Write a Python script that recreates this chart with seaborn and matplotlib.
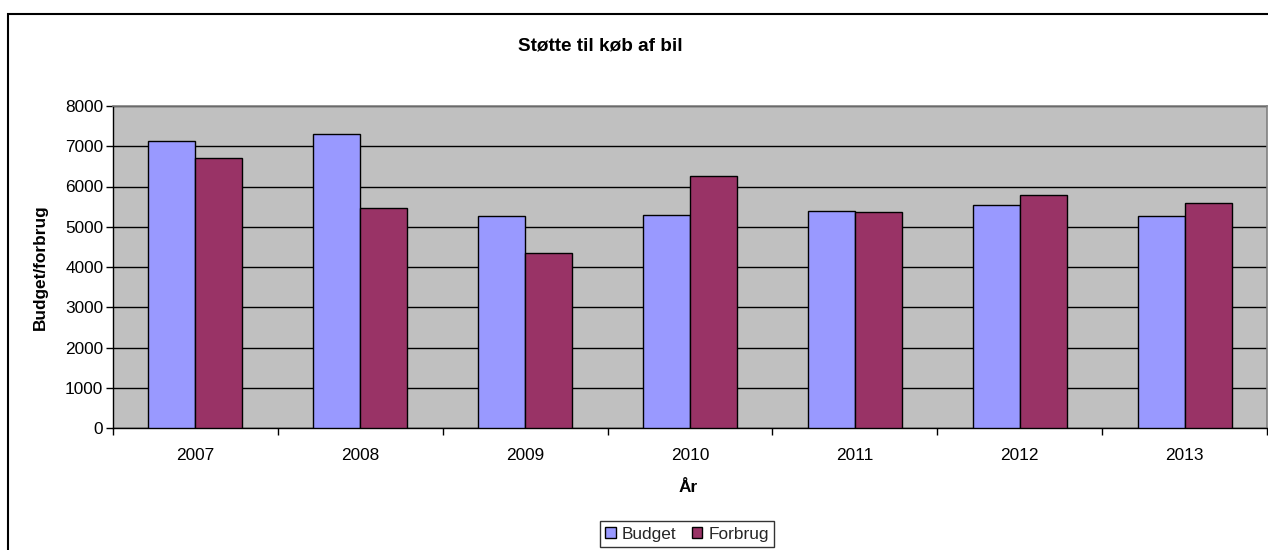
import matplotlib
matplotlib.use("Agg")
import matplotlib.pyplot as plt
from matplotlib.patches import Rectangle, Patch
from matplotlib.ticker import FixedLocator
import seaborn as sns
import pandas as pd

years = ["2007", "2008", "2009", "2010", "2011", "2012", "2013"]
budget = [7130, 7300, 5260, 5290, 5400, 5530, 5260]
forbrug = [6720, 5460, 4350, 6260, 5360, 5800, 5600]
series_names = ["Budget", "Forbrug"]
colors = ["#9999FF", "#993366"]

df = pd.DataFrame({
    "År": years * 2,
    "Værdi": budget + forbrug,
    "Serie": [series_names[0]] * len(years) + [series_names[1]] * len(years),
})

sns.set_theme(style="white")
plt.rcParams["font.family"] = ["Liberation Sans", "DejaVu Sans"]

FS = 12.4
W, H = 1268, 550
fig = plt.figure(figsize=(W / 100, H / 100), dpi=100)
fig.patch.set_facecolor("white")

left, right, top, bottom = 113, 1267, 106, 428
ax = fig.add_axes([left / W, 1 - bottom / H, (right - left) / W, (bottom - top) / H])
ax.set_facecolor("#C0C0C0")

sns.barplot(data=df, x="År", y="Værdi", hue="Serie", palette=colors,
            width=0.57, gap=0, saturation=1, edgecolor="black", linewidth=1.0,
            ax=ax, legend=False, zorder=3)

ax.set_ylim(0, 8000)
ax.set_xlim(-0.5, len(years) - 0.5)
ax.set_yticks(range(0, 8001, 1000))
ax.yaxis.grid(True, color="black", linewidth=1.0, zorder=0)
ax.set_axisbelow(True)
ax.tick_params(axis="y", which="major", direction="out", length=5, width=1,
               color="black", labelsize=FS, pad=2, left=True, labelcolor="black")
ax.xaxis.set_minor_locator(FixedLocator([i - 0.5 for i in range(len(years) + 1)]))
ax.tick_params(axis="x", which="minor", direction="out", length=5, width=1,
               color="black", bottom=True)
ax.tick_params(axis="x", which="major", length=0, labelsize=FS, pad=14.5,
               labelcolor="black")

for s in ["left", "bottom"]:
    ax.spines[s].set_color("black")
    ax.spines[s].set_linewidth(1.0)
for s in ["top", "right"]:
    ax.spines[s].set_color("#808080")
    ax.spines[s].set_linewidth(1.2)

ax.set_xlabel("År", fontsize=FS, fontweight="bold", color="black")
ax.xaxis.set_label_coords((688 - left) / (right - left), (bottom - 480) / (bottom - top))
ax.xaxis.label.set_va("top")
ax.set_ylabel("Budget/forbrug", fontsize=FS, fontweight="bold", color="black")
ax.yaxis.set_label_coords((40 - left) / (right - left), 0.5)
ax.yaxis.label.set_va("center")

fig.text(600 / W, 1 - 46 / H, "Støtte til køb af bil", ha="center", va="center",
         fontsize=13.6, fontweight="bold", color="black")

handles = [Patch(facecolor=c, edgecolor="black", linewidth=1.0) for c in colors]
leg = fig.legend(handles, series_names, loc="center",
                 bbox_to_anchor=(687 / W, 1 - 534 / H), ncol=2, fontsize=FS,
                 frameon=True, fancybox=False, edgecolor="black",
                 handlelength=0.6, handleheight=0.6, handletextpad=0.35,
                 columnspacing=0.9, borderpad=0.3, borderaxespad=0)
leg.get_frame().set_linewidth(1.0)

fig.patches.append(Rectangle((8 / W, -0.1), 1.2, (H - 14) / H + 0.1,
                             transform=fig.transFigure, fill=False,
                             edgecolor="black", linewidth=1.5, zorder=10))

fig.savefig("out.png", dpi=100)
